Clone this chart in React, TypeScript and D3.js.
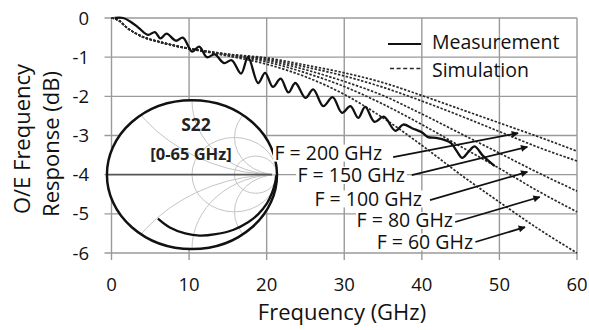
import React from "react";
import * as d3 from "d3";

// ---- data ----
const xTicks = [0, 10, 20, 30, 40, 50, 60];
const yTicks = [0, -1, -2, -3, -4, -5, -6];

const measFreq = [0.4, 1.5, 2.5, 3.5, 4.7, 5.6, 6.3, 7.1, 8.3, 9.2, 10.4, 11.3, 12.3, 13.3, 14.5, 15.5, 16.7, 17.6, 18.9, 19.8, 20.8, 21.8, 22.8, 23.7, 25.0, 26.0, 27.3, 28.5, 29.7, 30.8, 31.8, 32.7, 33.9, 35.1, 36.6, 37.6, 38.8, 40.0, 40.8, 41.8, 43.0, 43.8, 44.5, 45.2, 46.0, 46.8, 47.8, 48.6, 49.4];
const measDb = [0, 0.0, -0.1, -0.25, -0.43, -0.36, -0.52, -0.4, -0.58, -0.5, -0.86, -0.73, -1.0, -0.93, -1.15, -1.08, -1.42, -1.0, -1.66, -1.4, -1.76, -1.55, -1.9, -1.66, -2.04, -1.82, -2.25, -2.02, -2.42, -2.25, -2.55, -2.27, -2.65, -2.52, -2.88, -2.72, -2.82, -2.92, -3.04, -3.06, -3.12, -3.2, -3.4, -3.57, -3.42, -3.28, -3.5, -3.65, -3.78];

const simFreq = [0, 1, 2, 3, 4, 6, 8, 10, 12, 15, 20, 25, 30, 35, 40, 45, 50, 55, 60];
const sim200 = [0, -0.07, -0.25, -0.38, -0.48, -0.6, -0.7, -0.78, -0.84, -0.92, -1.02, -1.2, -1.4, -1.65, -1.98, -2.33, -2.68, -3.03, -3.4];
const sim150 = [0, -0.07, -0.25, -0.38, -0.48, -0.6, -0.7, -0.78, -0.84, -0.93, -1.05, -1.25, -1.48, -1.77, -2.12, -2.5, -2.9, -3.3, -3.65];
const sim100 = [0, -0.07, -0.25, -0.38, -0.48, -0.6, -0.7, -0.78, -0.85, -0.94, -1.08, -1.32, -1.62, -1.98, -2.45, -2.95, -3.45, -3.95, -4.42];
const sim80 = [0, -0.07, -0.25, -0.38, -0.48, -0.6, -0.7, -0.78, -0.85, -0.95, -1.12, -1.4, -1.75, -2.2, -2.72, -3.28, -3.84, -4.42, -4.95];
const sim60 = [0, -0.07, -0.25, -0.38, -0.48, -0.6, -0.7, -0.79, -0.86, -0.97, -1.18, -1.5, -1.95, -2.55, -3.25, -4.0, -4.7, -5.38, -6.0];
const simSeries = [sim200, sim150, sim100, sim80, sim60];

// annotation labels (text end f, text center dB, arrow tail f/dB, arrow tip f/dB)
const annLabels = ["F = 200 GHz", "F = 150 GHz", "F = 100 GHz", "F = 80 GHz", "F = 60 GHz"];
const annTextF = [34.87, 37.83, 40.02, 44.02, 46.6];
const annTextDb = [-3.45, -4.02, -4.62, -5.17, -5.72];
const annTailF = [36.3, 38.7, 41.05, 44.3, 46.9];
const annTailDb = [-3.55, -4.01, -4.65, -5.21, -5.72];
const annTipF = [52.4, 53.6, 53.6, 55.2, 53.3];
const annTipDb = [-2.94, -3.29, -3.93, -4.57, -5.34];

// S22 trace, normalized reflection coefficient (re, im), 0 -> 65 GHz
const s22Re = [0.99, 0.98, 0.94, 0.88, 0.78, 0.66, 0.49, 0.28, 0.09, -0.08, -0.26, -0.4];
const s22Im = [-0.01, -0.1, -0.25, -0.39, -0.53, -0.64, -0.74, -0.8, -0.82, -0.79, -0.71, -0.59];
const smithR = [1, 3];
const smithX = [0.5, 1, 2, -0.5, -1, -2];

const W = 589, H = 330;
const FONT = "'Open Sans', sans-serif";

export default function App() {
  const x = d3.scaleLinear().domain([0, 60]).range([111.5, 577]);
  const y = d3.scaleLinear().domain([0, -6]).range([18, 253]);

  const measLine = d3
    .line<number>()
    .x((_, i) => x(measFreq[i]))
    .y((d) => y(d))
    .curve(d3.curveCatmullRom.alpha(0.5));
  const simLine = (arr: number[]) =>
    d3
      .line<number>()
      .x((_, i) => x(simFreq[i]))
      .y((d) => y(d))
      .curve(d3.curveMonotoneX)(arr) || "";

  // Smith inset geometry (data coords)
  const cx = x(10.37);
  const cy = y(-4.0);
  const rx = x(10.37 + 10.96) - cx;
  const ry = y(-4.0 - 1.9) - cy;

  const s22Line = d3
    .line<number>()
    .x((_, i) => cx + s22Re[i] * rx)
    .y((_, i) => cy - s22Im[i] * ry)
    .curve(d3.curveCatmullRom.alpha(0.5));

  return (
    <svg width={W} height={H} style={{ position: "absolute", left: 0, top: 0, background: "#fff" }} fontFamily={FONT}>
      <defs>
        <marker id="arr" viewBox="0 0 10 10" refX="9" refY="5" markerWidth="10" markerHeight="7" markerUnits="userSpaceOnUse" orient="auto">
          <path d="M0,0 L10,5 L0,10 Z" fill="#111" />
        </marker>
        <clipPath id="smithClip">
          <ellipse cx={cx} cy={cy} rx={rx} ry={ry} />
        </clipPath>
      </defs>
      <rect x={0} y={0} width={W} height={H} fill="#fff" />
      {/* grid */}
      {xTicks.map((t) => (
        <line key={"vx" + t} x1={x(t)} x2={x(t)} y1={y(0)} y2={y(-6) + 7} stroke="#9a9a9a" strokeWidth={1.4} />
      ))}
      {yTicks.map((t) => (
        <line key={"hy" + t} x1={x(0) - 7} x2={x(60)} y1={y(t)} y2={y(t)} stroke="#9a9a9a" strokeWidth={1.4} />
      ))}
      {/* tick labels */}
      {yTicks.map((t) => (
        <text key={"yl" + t} x={89} y={y(t) + 6.5} fontSize={18.5} textAnchor="end" fill="#111">
          {t === 0 ? "0" : "-" + Math.abs(t)}
        </text>
      ))}
      {xTicks.map((t) => (
        <text key={"xl" + t} x={x(t)} y={291} fontSize={18.5} textAnchor="middle" fill="#111">
          {t}
        </text>
      ))}
      {/* axis titles */}
      <text x={342} y={320} fontSize={22} textAnchor="middle" fill="#111">Frequency (GHz)</text>
      <text transform="translate(30,139) rotate(-90)" fontSize={22} textAnchor="middle" fill="#111">O/E Frequency</text>
      <text transform="translate(59,144) rotate(-90)" fontSize={22} textAnchor="middle" fill="#111">Response (dB)</text>

      {/* simulation */}
      {simSeries.map((s, i) => (
        <path key={"sim" + i} d={simLine(s)} fill="none" stroke="#2a2a2a" strokeWidth={1.7} strokeDasharray="2.4 1.6" />
      ))}
      {/* measurement */}
      <path d={measLine(measDb) || ""} fill="none" stroke="#111" strokeWidth={2.3} strokeLinejoin="round" />

      {/* legend */}
      <line x1={388} x2={421} y1={44} y2={44} stroke="#111" strokeWidth={2.2} />
      <text x={432} y={48.5} fontSize={19.5} fill="#111">Measurement</text>
      <line x1={390} x2={423} y1={68.5} y2={68.5} stroke="#2a2a2a" strokeWidth={1.7} strokeDasharray="4 2.6" />
      <text x={432} y={76.8} fontSize={19.5} fill="#111">Simulation</text>

      {/* Smith inset */}
      <ellipse cx={cx} cy={cy} rx={rx} ry={ry} fill="#fff" />
      <g clipPath="url(#smithClip)">
        {smithR.map((r) => (
          <ellipse key={"r" + r} cx={cx + (r / (1 + r)) * rx} cy={cy} rx={(1 / (1 + r)) * rx} ry={(1 / (1 + r)) * ry} fill="none" stroke="#c4c4c4" strokeWidth={1} />
        ))}
        {smithX.map((xx) => (
          <ellipse key={"x" + xx} cx={cx + rx} cy={cy - (1 / xx) * ry} rx={(1 / Math.abs(xx)) * rx} ry={(1 / Math.abs(xx)) * ry} fill="none" stroke="#c4c4c4" strokeWidth={1} />
        ))}
      </g>
      <line x1={cx - rx} x2={cx + rx - 5} y1={cy} y2={cy} stroke="#555" strokeWidth={1.6} />
      <ellipse cx={cx} cy={cy} rx={rx} ry={ry} fill="none" stroke="#111" strokeWidth={2.5} />
      <path d={s22Line(s22Re) || ""} fill="none" stroke="#111" strokeWidth={2.3} />
      <text x={196} y={131} fontSize={17.5} fontWeight={700} textAnchor="middle" fill="#222">S22</text>
      <text x={191} y={160} fontSize={16.5} fontWeight={700} textAnchor="middle" fill="#222">[0-65 GHz]</text>

      {/* annotations */}
      {annLabels.map((lab, i) => (
        <g key={"ann" + i}>
          <rect x={x(annTextF[i]) - (lab.length > 10 ? 109 : 97)} y={y(annTextDb[i]) - 8.5} width={lab.length > 10 ? 111 : 99} height={17} fill="#fff" />
          <text x={x(annTextF[i])} y={y(annTextDb[i]) + 6.8} fontSize={19.5} textAnchor="end" fill="#111">{lab}</text>
          <line x1={x(annTailF[i])} y1={y(annTailDb[i])} x2={x(annTipF[i])} y2={y(annTipDb[i])} stroke="#111" strokeWidth={1.7} markerEnd="url(#arr)" />
        </g>
      ))}
    </svg>
  );
}
